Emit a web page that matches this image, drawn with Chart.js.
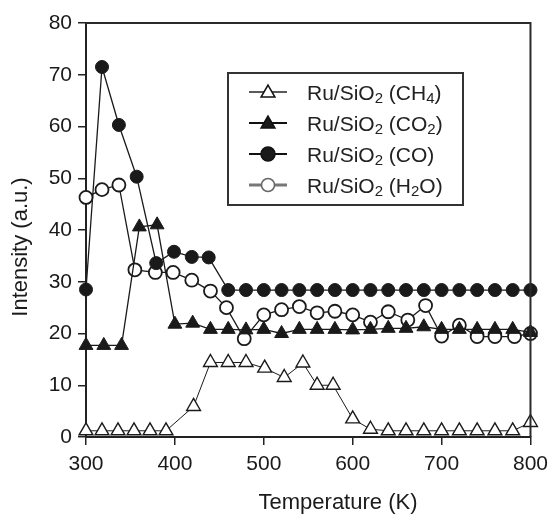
<!DOCTYPE html>
<html>
<head>
<meta charset="utf-8">
<script src="https://cdn.jsdelivr.net/npm/chart.js@4.4.1/dist/chart.umd.min.js"></script>
<style>
  html, body { margin: 0; padding: 0; background: #fff; }
  #grafica { display: block; }
</style>
</head>
<body>
<canvas id="grafica" width="555" height="514"></canvas>
<script>
// Datos
const xTicks = [300, 400, 500, 600, 700, 800];
const yTicks = [0, 10, 20, 30, 40, 50, 60, 70, 80];

const tempCH4 = [300, 318, 336, 354, 372, 390, 421, 440, 460, 480, 501, 523, 544, 560, 578, 600, 620, 640, 660, 680, 700, 720, 740, 760, 780, 800];
const valCH4  = [1.2, 1.2, 1.2, 1.2, 1.2, 1.2, 5.9, 14.4, 14.4, 14.4, 13.3, 11.5, 14.3, 10, 10, 3.5, 1.5, 1.2, 1.2, 1.2, 1.2, 1.2, 1.2, 1.2, 1.2, 2.8];

const tempCO2 = [300, 320, 340, 360, 380, 400, 420, 440, 460, 480, 500, 520, 540, 560, 580, 600, 620, 640, 660, 680, 700, 720, 740, 760, 780, 800];
const valCO2  = [17.7, 17.7, 17.7, 40.6, 41, 21.8, 22, 20.8, 20.8, 20.7, 20.8, 20, 20.8, 20.8, 20.8, 20.7, 20.8, 21, 21, 21.3, 20.8, 20.8, 20.8, 20.8, 20.8, 20.2];

const tempCO = [300, 318, 337, 357, 379, 399, 419, 438, 460, 480, 500, 520, 540, 560, 580, 600, 620, 640, 660, 680, 700, 720, 740, 760, 780, 800];
const valCO  = [28.5, 71.5, 60.3, 50.3, 33.6, 35.8, 34.8, 34.7, 28.4, 28.4, 28.4, 28.4, 28.4, 28.4, 28.4, 28.4, 28.4, 28.4, 28.4, 28.4, 28.4, 28.4, 28.4, 28.4, 28.4, 28.4];

const tempH2O = [300, 318, 337, 355, 378, 398, 419, 440, 458, 478, 500, 520, 540, 560, 580, 600, 620, 640, 662, 682, 700, 720, 740, 760, 782, 800];
const valH2O  = [46.3, 47.8, 48.7, 32.3, 31.8, 31.8, 30.3, 28.2, 25, 19, 23.6, 24.6, 25.2, 24, 24.3, 23.6, 22.2, 24.2, 22.6, 25.4, 19.5, 21.6, 19.4, 19.4, 19.4, 20];

// Etiquetas de la leyenda: [texto, esSubindice]
const etiquetas = [
    [["Ru/SiO", 0], ["2", 1], [" (CH", 0], ["4", 1], [")", 0]],
    [["Ru/SiO", 0], ["2", 1], [" (CO", 0], ["2", 1], [")", 0]],
    [["Ru/SiO", 0], ["2", 1], [" (CO)", 0]],
    [["Ru/SiO", 0], ["2", 1], [" (H", 0], ["2", 1], ["O)", 0]]
];
const tituloX = "Temperature (K)";
const tituloY = "Intensity (a.u.)";

const fuente = "'Liberation Sans', Arial, sans-serif";
const negro = "#1a1a1a";

function puntos(xs, ys) {
    return xs.map((x, i) => ({ x: x, y: ys[i] }));
}

// Marco y titulos de los ejes
const marco = {
    id: "marco",
    afterDraw(chart) {
        const a = chart.chartArea;
        const c = chart.ctx;
        c.save();
        c.strokeStyle = "#2a2a2a";
        c.lineWidth = 2;
        c.beginPath();
        c.moveTo(a.left, a.top);
        c.lineTo(a.right, a.top);
        c.lineTo(a.right, a.bottom);
        c.stroke();

        c.fillStyle = negro;
        c.font = "22px " + fuente;
        c.textAlign = "center";
        c.textBaseline = "middle";
        c.fillText(tituloX, 338, 503);
        c.translate(21, 247);
        c.rotate(-Math.PI / 2);
        c.fillText(tituloY, 0, 0);
        c.restore();
    }
};

function marcador(c, tipo, x, y, r, relleno) {
    c.beginPath();
    if (tipo === "triangle") {
        c.moveTo(x, y - r);
        c.lineTo(x + r * Math.sin(2 * Math.PI / 3), y + r / 2);
        c.lineTo(x - r * Math.sin(2 * Math.PI / 3), y + r / 2);
        c.closePath();
    } else {
        c.arc(x, y, r, 0, Math.PI * 2);
    }
    c.fillStyle = relleno;
    c.fill();
    c.stroke();
}

// Leyenda con caja, linea y marcador
const leyenda = {
    id: "leyenda",
    afterDraw(chart) {
        const c = chart.ctx;
        c.save();
        c.fillStyle = "#fff";
        c.fillRect(228, 73, 235, 132);
        c.strokeStyle = "#333";
        c.lineWidth = 2;
        c.strokeRect(228, 73, 235, 132);

        const filas = [92, 123, 154, 185];
        const estilos = [
            { tipo: "triangle", r: 8, relleno: "#fff", linea: "#222", ancho: 1.5 },
            { tipo: "triangle", r: 8, relleno: negro, linea: "#111", ancho: 2 },
            { tipo: "circle", r: 7, relleno: negro, linea: "#111", ancho: 2 },
            { tipo: "circle", r: 6.5, relleno: "#fff", linea: "#777", ancho: 3 }
        ];
        filas.forEach((y, i) => {
            const e = estilos[i];
            c.strokeStyle = e.linea;
            c.lineWidth = e.ancho;
            c.beginPath();
            c.moveTo(249, y);
            c.lineTo(287, y);
            c.stroke();
            c.lineWidth = 1.5;
            c.strokeStyle = i === 3 ? "#666" : "#111";
            marcador(c, e.tipo, 268, i < 2 ? y + 1 : y, e.r, e.relleno);

            c.fillStyle = "#222";
            c.textBaseline = "alphabetic";
            let x = 307;
            const base = y + 8;
            etiquetas[i].forEach(([txt, sub]) => {
                c.font = (sub ? "15px " : "21px ") + fuente;
                c.fillText(txt, x, sub ? base + 3 : base);
                x += c.measureText(txt).width;
            });
        });
        c.restore();
    }
};

const ctx = document.getElementById("grafica");

new Chart(ctx, {
    type: "line",
    data: {
        datasets: [
            {
                label: "CO",
                data: puntos(tempCO, valCO),
                order: 1,
                borderColor: negro, borderWidth: 1.3,
                pointStyle: "circle", pointRadius: 6.5,
                pointBackgroundColor: negro, pointBorderColor: negro, pointBorderWidth: 1,
                clip: false
            },
            {
                label: "CO2",
                data: puntos(tempCO2, valCO2),
                order: 2,
                borderColor: negro, borderWidth: 1.3,
                pointStyle: "triangle", pointRadius: 8,
                pointBackgroundColor: negro, pointBorderColor: negro, pointBorderWidth: 1,
                clip: false
            },
            {
                label: "CH4",
                data: puntos(tempCH4, valCH4),
                order: 3,
                borderColor: negro, borderWidth: 1,
                pointStyle: "triangle", pointRadius: 8,
                pointBackgroundColor: "#fff", pointBorderColor: negro, pointBorderWidth: 1.4,
                clip: false
            },
            {
                label: "H2O",
                data: puntos(tempH2O, valH2O),
                order: 4,
                borderColor: negro, borderWidth: 1.3,
                pointStyle: "circle", pointRadius: 6.5,
                pointBackgroundColor: "#fff", pointBorderColor: negro, pointBorderWidth: 1.8,
                clip: false
            }
        ]
    },
    options: {
        responsive: false,
        animation: false,
        layout: { padding: { top: 23, right: 19, left: 0, bottom: 0 } },
        plugins: {
            legend: { display: false },
            tooltip: { enabled: false }
        },
        scales: {
            x: {
                type: "linear",
                min: xTicks[0],
                max: xTicks[xTicks.length - 1],
                afterFit: s => { s.height = 77; },
                afterBuildTicks: s => { s.ticks = xTicks.map(v => ({ value: v })); },
                ticks: { color: negro, font: { family: fuente, size: 21 }, padding: 7, maxRotation: 0 },
                grid: { drawOnChartArea: false, drawTicks: true, tickLength: 8, color: "#222", lineWidth: 1.5 },
                border: { display: true, color: "#222", width: 2 }
            },
            y: {
                min: yTicks[0],
                max: yTicks[yTicks.length - 1],
                afterFit: s => { s.width = 86; },
                afterBuildTicks: s => { s.ticks = yTicks.map(v => ({ value: v })); },
                ticks: { color: negro, font: { family: fuente, size: 21 }, padding: 6 },
                grid: { drawOnChartArea: false, drawTicks: true, tickLength: 8, color: "#222", lineWidth: 1.5 },
                border: { display: true, color: "#222", width: 2 }
            }
        }
    },
    plugins: [marco, leyenda]
});
</script>
</body>
</html>
